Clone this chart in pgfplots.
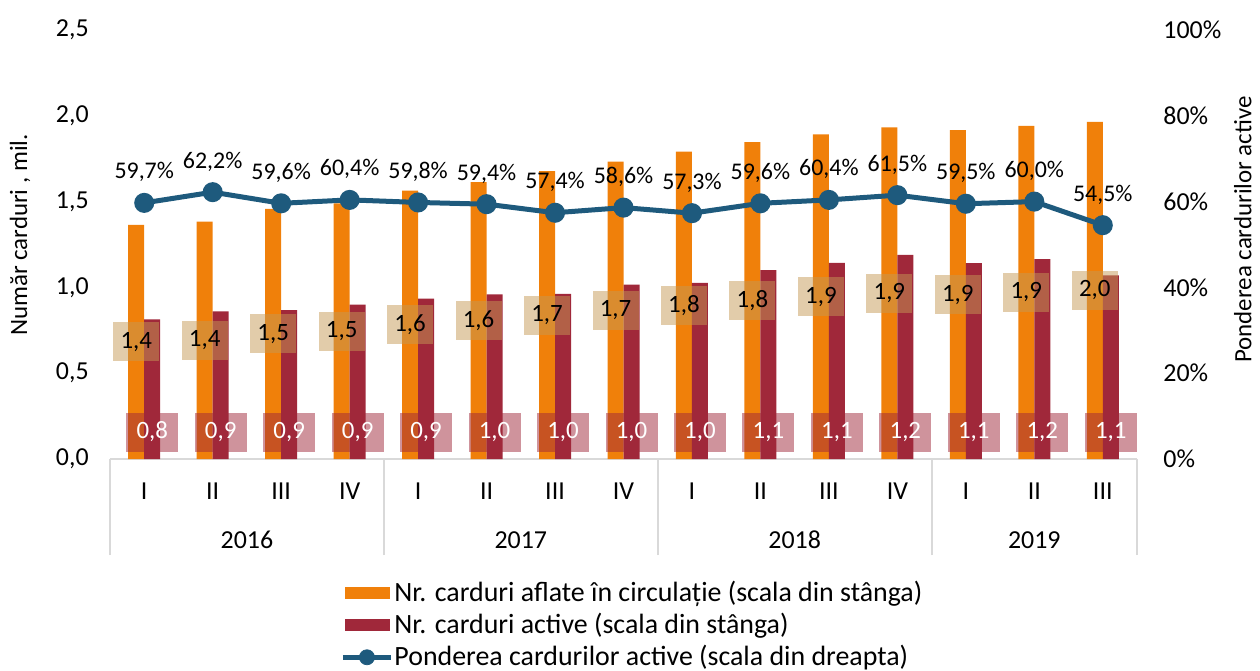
\documentclass[border=0pt,12pt]{standalone}
\usepackage{fontspec}
\setmainfont{Carlito}
\usepackage{pgfplots}
\pgfplotsset{compat=1.18}
\usepackage{pgfplotstable}

\definecolor{corange}{RGB}{240,128,10}
\definecolor{cred}{RGB}{160,40,58}
\definecolor{cline}{RGB}{30,90,125}
\definecolor{ctan}{RGB}{197,153,85}
\definecolor{cgrid}{RGB}{217,217,217}

\pgfplotstableread{
x orange red pct
0 1.364 0.814 59.7
1 1.383 0.860 62.2
2 1.457 0.868 59.6
3 1.490 0.900 60.4
4 1.564 0.935 59.8
5 1.614 0.959 59.4
6 1.678 0.963 57.4
7 1.733 1.016 58.6
8 1.791 1.026 57.3
9 1.846 1.100 59.6
10 1.892 1.143 60.4
11 1.933 1.189 61.5
12 1.917 1.141 59.5
13 1.941 1.165 60.0
14 1.964 1.070 54.5
}\data

\begin{document}
\begin{tikzpicture}
\pgfplotsset{
  common/.style={width=513.5bp, height=214.5bp, scale only axis,
    xmin=-0.5, xmax=14.5, at={(0,0)}, anchor=south west,
    font=\fontsize{12}{14}\selectfont,
    tick label style={font=\fontsize{13}{15}\selectfont},
    label style={font=\fontsize{12.5}{14}\selectfont},
    /pgf/number format/assume math mode=true,
    clip=false},
}
\begin{axis}[common,
  ymin=0, ymax=2.5, ytick={0,0.5,1,1.5,2,2.5},
  yticklabel style={xshift=-6.5bp, /pgf/number format/.cd, fixed, fixed zerofill, precision=1, use comma},
  axis x line*=bottom, axis y line*=left,
  y axis line style={draw=none},
  x axis line style={draw=cgrid, line width=1bp, -},
  ytick style={draw=none}, xtick style={draw=none},
  xtick={0,...,14},
  xticklabels={I,II,III,IV,I,II,III,IV,I,II,III,IV,I,II,III},
  xticklabel style={anchor=base, yshift=-20bp},
  extra x ticks={-0.5,3.5,7.5,11.5,14.5},
  extra x tick labels={},
  extra x tick style={major tick length=48bp, tick align=outside,
     xtick style={draw=cgrid, line width=1bp}},
  ylabel={Număr carduri , mil.},
  ylabel style={at={(axis description cs:-0.0876,0.522)}, anchor=center},
  legend style={at={(axis description cs:0.224,-0.275)}, anchor=north west,
    draw=none, fill=none, font=\fontsize{14}{16}\selectfont,
    row sep=0bp, inner sep=0pt,
    nodes={inner xsep=0.5bp}},
  legend cell align=left,
]
\addplot[ybar, bar width=8bp, bar shift=-4bp, fill=corange, draw=none,
  legend image code/.code={\fill[corange] (0bp,-3bp) rectangle (22.5bp,3bp);}]
  table[x=x, y=orange]{\data};
\addlegendentry{Nr. carduri aflate în circulație (scala din stânga)}
\addplot[ybar, bar width=8bp, bar shift=4bp, fill=cred, draw=none,
  legend image code/.code={\fill[cred] (0bp,-3bp) rectangle (22.5bp,3bp);}]
  table[x=x, y=red]{\data};
\addlegendentry{Nr. carduri active (scala din stânga)}
\addlegendimage{legend image code/.code={\draw[cline, line width=2.5bp] (-1bp,0bp) -- (23bp,0bp); \fill[cline] (11bp,0bp) circle (3.75bp);}}
\addlegendentry{Ponderea cardurilor active (scala din dreapta)}

% labels of orange bars (centre of bar)
\addplot[sharp plot, draw=none, mark=none, forget plot, point meta=explicit,
  nodes near coords={\pgfmathprintnumber[fixed,fixed zerofill,precision=1,use comma]{\pgfplotspointmeta}},
  every node near coord/.style={anchor=center, xshift=-4bp, fill=ctan, fill opacity=0.5,
    text opacity=1, text=black, minimum width=23bp, minimum height=19.5bp, inner sep=0pt,
    font=\fontsize{12.5}{14}\selectfont}]
  table[x=x, y expr=\thisrow{orange}/2, meta=orange]{\data};
% labels of red bars (at base)
\addplot[sharp plot, draw=none, mark=none, forget plot, point meta=explicit,
  nodes near coords={\pgfmathprintnumber[fixed,fixed zerofill,precision=1,use comma]{\pgfplotspointmeta}},
  every node near coord/.style={anchor=center, xshift=4bp, yshift=13.5bp, fill=cred, fill opacity=0.5,
    text opacity=1, text=white, minimum width=26bp, minimum height=19.5bp, inner sep=0pt,
    font=\fontsize{12.5}{14}\selectfont}]
  table[x=x, y expr=0, meta=red]{\data};

\node[anchor=base, yshift=-44.5bp, font=\fontsize{13}{15}\selectfont] at (axis cs:1.5,0) {2016};
\node[anchor=base, yshift=-44.5bp, font=\fontsize{13}{15}\selectfont] at (axis cs:5.5,0) {2017};
\node[anchor=base, yshift=-44.5bp, font=\fontsize{13}{15}\selectfont] at (axis cs:9.5,0) {2018};
\node[anchor=base, yshift=-44.5bp, font=\fontsize{13}{15}\selectfont] at (axis cs:13,0) {2019};
\end{axis}

\begin{axis}[common,
  ymin=0, ymax=100, ytick={0,20,40,60,80,100},
  yticklabel={\pgfmathprintnumber{\tick}\%},
  yticklabel style={xshift=9bp},
  axis y line*=right, axis x line=none,
  y axis line style={draw=none}, ytick style={draw=none},
  ylabel={Ponderea cardurilor active},
  ylabel style={at={(axis description cs:1.103,0.535)}, anchor=center, rotate=0},
]
\addplot[cline, line width=2.5bp, mark=*, mark size=3.75bp, mark options={fill=cline, draw=cline},
  point meta=explicit,
  nodes near coords={\pgfmathprintnumber[fixed,fixed zerofill,precision=1,use comma]{\pgfplotspointmeta}\%},
  every node near coord/.style={anchor=base, yshift=12bp, text=black}]
  table[x=x, y=pct, meta=pct]{\data};
\end{axis}
\pgfresetboundingbox
\path[use as bounding box] (-55bp,-106bp) rectangle (575bp,229.5bp);
\end{tikzpicture}
\end{document}
